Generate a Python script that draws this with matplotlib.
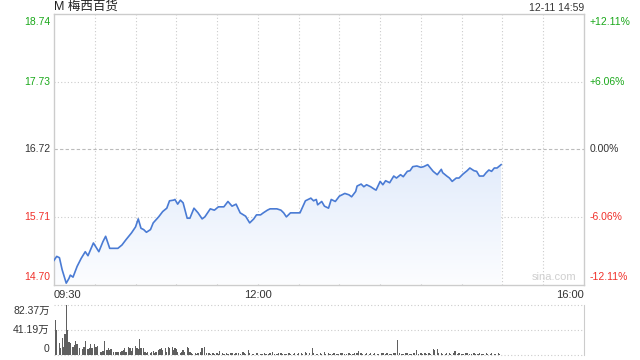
import matplotlib.pyplot as plt
import numpy as np

plt.rcParams["font.family"] = ["Liberation Sans", "Noto Sans CJK SC"]
plt.rcParams["axes.unicode_minus"] = False

TITLE = "M 梅西百货"
STAMP = "12-11 14:59"
PREV_CLOSE = 16.72
PRICE_TICKS = [14.70, 15.71, 16.72, 17.73, 18.74]
PCT_LABELS = ["-12.11%", "-6.06%", "0.00%", "+6.06%", "+12.11%"]
TIME_LABELS = ["09:30", "12:00", "16:00"]
TIME_POS = [0, 150, 390]

# minutes after 09:30 and price
minutes = [0, 2, 4, 6, 9, 11, 12, 14, 17, 20, 23, 25, 29, 33, 36, 38, 41, 47, 50, 53,
           57, 60, 62, 64, 66, 68, 71, 73, 77, 80, 83, 85, 88, 89, 91, 93, 95, 98, 100, 103,
           106, 109, 111, 115, 118, 121, 125, 128, 131, 134, 137, 141, 144, 147, 149, 152, 154, 157, 159, 164,
           167, 169, 171, 174, 179, 181, 183, 185, 189, 191, 193, 194, 197, 199, 202, 204, 207, 210, 214, 217,
           219, 222, 223, 226, 228, 230, 233, 236, 237, 240, 242, 244, 247, 250, 252, 255, 257, 260, 262, 264,
           267, 270, 272, 275, 277, 279, 282, 285, 286, 289, 291, 293, 296, 298, 301, 304, 306, 309, 311, 313,
           316, 318, 320, 322, 324, 326, 329]
prices = [15.06, 15.12, 15.10, 14.92, 14.72, 14.79, 14.84, 14.81, 14.97, 15.09, 15.19, 15.13, 15.32, 15.19, 15.34, 15.42, 15.24, 15.24, 15.29, 15.37,
          15.47, 15.56, 15.68, 15.54, 15.52, 15.48, 15.52, 15.62, 15.71, 15.79, 15.84, 15.95, 15.96, 15.97, 15.90, 15.96, 15.92, 15.69, 15.69, 15.84,
          15.77, 15.68, 15.71, 15.83, 15.81, 15.86, 15.86, 15.94, 15.87, 15.90, 15.77, 15.72, 15.62, 15.68, 15.74, 15.74, 15.77, 15.81, 15.83, 15.83,
          15.81, 15.77, 15.71, 15.77, 15.77, 15.77, 15.86, 15.95, 15.99, 15.95, 15.97, 15.89, 15.94, 15.87, 15.84, 15.97, 15.94, 16.02, 16.06, 16.04,
          16.01, 16.09, 16.17, 16.20, 16.16, 16.19, 16.16, 16.12, 16.11, 16.24, 16.19, 16.25, 16.22, 16.32, 16.29, 16.34, 16.31, 16.39, 16.40, 16.46,
          16.47, 16.45, 16.46, 16.49, 16.44, 16.39, 16.34, 16.42, 16.37, 16.32, 16.29, 16.24, 16.29, 16.29, 16.35, 16.40, 16.44, 16.40, 16.39, 16.32,
          16.32, 16.37, 16.41, 16.39, 16.44, 16.44, 16.49]

# volume bars (minute, 万 shares)
vol_minutes = [1, 2, 4, 5, 6, 7, 8, 9, 10, 11, 12, 14, 15, 16, 17, 19, 21, 22, 23, 25,
               26, 27, 28, 30, 31, 32, 34, 35, 36, 37, 39, 40, 41, 42, 44, 45, 46, 47, 49, 50,
               51, 52, 53, 55, 56, 57, 58, 60, 61, 62, 63, 64, 66, 67, 68, 69, 71, 72, 73, 74,
               75, 77, 78, 79, 80, 82, 83, 84, 85, 87, 88, 89, 90, 91, 93, 94, 95, 96, 98, 99,
               100, 101, 102, 104, 105, 106, 108, 109, 111, 112, 114, 115, 117, 118, 120, 121, 122, 124, 125, 127,
               128, 130, 131, 133, 134, 136, 137, 139, 140, 141, 143, 144, 146, 147, 149, 150, 152, 153, 155, 156,
               158, 159, 161, 162, 164, 165, 167, 168, 170, 171, 173, 174, 176, 177, 179, 180, 182, 183, 185, 186,
               188, 190, 191, 193, 194, 196, 197, 199, 200, 202, 203, 205, 206, 208, 209, 211, 212, 214, 215, 217,
               218, 220, 221, 223, 224, 226, 227, 229, 230, 232, 233, 235, 236, 238, 239, 241, 242, 244, 245, 247,
               248, 250, 251, 253, 254, 256, 257, 259, 260, 262, 263, 265, 267, 268, 270, 271, 273, 274, 276, 277,
               279, 280, 282, 283, 285, 286, 288, 289, 291, 292, 294, 295, 297, 298, 300, 301, 303, 304, 306, 307,
               309, 310, 312, 313, 315, 316, 318, 319, 321, 322, 324, 325, 327, 328]
vol_values = [57.6, 41.2, 19.3, 12.2, 27.5, 13.8, 34.1, 82.37, 41.2, 22.0, 19.3, 13.8, 16.5, 23.0, 17.6, 11.0, 9.9, 13.8, 23.0, 9.9,
              12.2, 17.6, 11.0, 17.6, 13.8, 14.8, 5.6, 4.4, 6.6, 23.0, 8.2, 11.0, 8.2, 9.9, 4.4, 4.4, 4.4, 4.4, 5.6, 6.6,
              8.2, 11.0, 5.6, 13.8, 11.0, 6.6, 12.2, 15.5, 11.0, 9.9, 26.4, 12.2, 11.0, 4.4, 2.8, 5.6, 2.8, 4.4, 6.6, 2.8,
              5.6, 8.2, 9.9, 12.2, 8.2, 11.0, 5.6, 13.8, 11.0, 13.8, 8.2, 12.2, 9.9, 5.6, 2.8, 5.6, 8.2, 5.6, 13.8, 11.0,
              4.4, 2.8, 1.2, 2.8, 1.7, 2.8, 4.4, 11.0, 13.8, 3.3, 2.8, 1.7, 2.8, 2.2, 3.3, 1.7, 6.6, 2.8, 1.7, 2.8,
              2.2, 3.3, 2.8, 1.7, 2.8, 3.3, 2.2, 4.4, 2.8, 1.7, 8.2, 2.8, 2.2, 1.7, 2.8, 3.3, 1.7, 2.2, 2.8, 1.7,
              2.2, 2.8, 5.6, 2.2, 1.7, 2.8, 3.3, 1.7, 2.2, 1.7, 2.8, 2.2, 1.7, 2.8, 2.2, 3.3, 2.8, 1.7, 4.4, 2.8,
              3.3, 12.2, 2.8, 2.2, 1.7, 2.8, 2.2, 4.4, 1.7, 2.8, 2.2, 1.7, 2.8, 2.2, 1.7, 2.8, 3.3, 2.2, 1.7, 2.8,
              2.2, 1.7, 2.8, 3.3, 6.6, 2.8, 2.2, 1.7, 2.8, 2.2, 3.3, 1.7, 2.8, 2.2, 1.7, 2.8, 3.3, 2.2, 2.8, 1.7,
              2.2, 2.8, 3.3, 25.4, 2.8, 2.2, 1.7, 2.8, 3.3, 2.2, 1.7, 2.8, 8.2, 2.2, 2.8, 1.7, 3.3, 2.2, 2.8, 1.7,
              10.5, 8.2, 10.5, 3.3, 2.8, 2.2, 1.7, 2.8, 3.3, 2.2, 2.8, 6.6, 1.7, 2.8, 2.2, 1.7, 2.8, 3.3, 2.2, 1.7,
              2.8, 2.2, 1.7, 2.8, 2.2, 1.7, 2.8, 2.2, 1.7, 2.8, 2.2, 1.7, 2.8, 2.2]
VOL_MAX = 82.37

GREEN = "#1aa81a"
RED = "#f0302a"
DARK = "#333333"
GRID = "#cccccc"
LINE = "#4a7bd4"

fig = plt.figure(figsize=(6.4, 3.6), dpi=100)
ax = fig.add_axes([54 / 640, 1 - 284.5 / 360, 530 / 640, 270.5 / 360])
vax = fig.add_axes([54 / 640, 1 - 355 / 360, 530 / 640, 50 / 360])

lo, hi = PRICE_TICKS[0], PRICE_TICKS[-1]
ax.set_xlim(0, 390)
ax.set_ylim(lo, hi)

# gradient fill under the price line
grad = np.linspace(0, 1, 256).reshape(-1, 1)
cmap = plt.matplotlib.colors.LinearSegmentedColormap.from_list("g", ["#fcfdff", "#e3ecfb"])
img = ax.imshow(grad, extent=[0, 390, lo, max(prices)], origin="lower", aspect="auto",
                cmap=cmap, zorder=1)
clip = plt.Polygon(np.column_stack([[minutes[0]] + minutes + [minutes[-1]],
                                    [lo] + prices + [lo]]), closed=True, transform=ax.transData)
img.set_clip_path(clip)
ax.plot(minutes, prices, color=LINE, lw=1.2, zorder=3)

for t in range(30, 390, 30):
    ax.axvline(t, color=GRID, ls=(0, (1, 2)), lw=0.8, zorder=0)
for p in PRICE_TICKS[1:-1]:
    if p == PREV_CLOSE:
        ax.axhline(p, color="#bbbbbb", ls=(0, (3, 2)), lw=0.8, zorder=0)
    else:
        ax.axhline(p, color=GRID, ls=(0, (1, 2)), lw=0.8, zorder=0)

for s in ax.spines.values():
    s.set_color(GRID)
    s.set_linewidth(1)
ax.set_xticks([])
ax.set_yticks([])

fs = 7.5
for i, (p, pct) in enumerate(zip(PRICE_TICKS, PCT_LABELS)):
    col = RED if p < PREV_CLOSE else (GREEN if p > PREV_CLOSE else DARK)
    va = "bottom" if i == 0 else ("top" if i == len(PRICE_TICKS) - 1 else "center")
    off = 2 if i == 0 else (-2 if i == len(PRICE_TICKS) - 1 else 0)
    ax.annotate(f"{p:.2f}", (0, p), xytext=(-3, off), textcoords="offset points",
                ha="right", va=va, color=col, fontsize=fs)
    ax.annotate(pct, (390, p), xytext=(4, off), textcoords="offset points",
                ha="left", va=va, color=col, fontsize=fs)

for lab, t in zip(TIME_LABELS, TIME_POS):
    ha = "left" if t == 0 else ("right" if t == 390 else "center")
    ax.annotate(lab, (t, lo), xytext=(0, -4), textcoords="offset points",
                ha=ha, va="top", color=DARK, fontsize=fs + 0.5)

ax.text(0, 1.005, TITLE, transform=ax.transAxes, ha="left", va="bottom", fontsize=9, color="#222222")
ax.text(1, 1.005, STAMP, transform=ax.transAxes, ha="right", va="bottom", fontsize=7.5, color=DARK)
ax.text(0.985, 0.01, "sina.com", transform=ax.transAxes, ha="right", va="bottom",
        fontsize=8, color="#cfcfcf")

# volume panel
vax.bar(vol_minutes, vol_values, width=0.95, color="#5f5f5f", zorder=2)
vax.set_xlim(0, 390)
vax.set_ylim(0, VOL_MAX)
for v in [VOL_MAX, VOL_MAX / 2, 0]:
    vax.axhline(v, color=GRID, ls=(0, (1, 2)), lw=0.8, zorder=0, clip_on=False)
for side in ["top", "bottom", "left"]:
    vax.spines[side].set_visible(False)
vax.spines["right"].set_color(GRID)
vax.set_xticks([])
vax.set_yticks([])
vax.annotate("82.37万", (0, VOL_MAX), xytext=(-3, -1), textcoords="offset points",
             ha="right", va="top", color=DARK, fontsize=fs)
vax.annotate("41.19万", (0, VOL_MAX / 2), xytext=(-3, 0), textcoords="offset points",
             ha="right", va="center", color=DARK, fontsize=fs)
vax.annotate("0", (0, 0), xytext=(-3, 1), textcoords="offset points",
             ha="right", va="bottom", color=DARK, fontsize=fs)

fig.savefig("out.png", dpi=100)
